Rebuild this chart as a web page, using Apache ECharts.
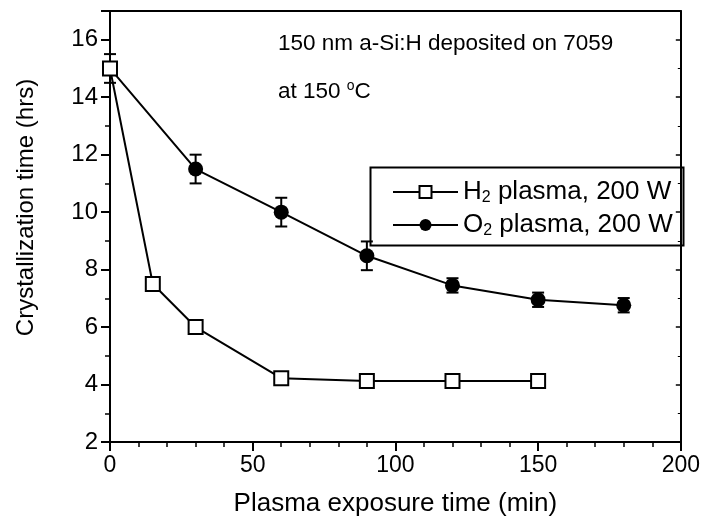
<!DOCTYPE html>
<html><head><meta charset="utf-8">
<script src="https://cdn.jsdelivr.net/npm/echarts@6/dist/echarts.min.js"></script>
<style>html,body{margin:0;padding:0;background:#fff}#c{width:703px;height:523px}</style>
</head><body><div id="c"></div>
<script>
// Data
const h2Time = [0, 15, 30, 60, 90, 120, 150];
const h2Hours = [15, 7.5, 6.0, 4.22, 4.12, 4.12, 4.12];
const h2Err = [0.5, 0.2, 0.2, 0.2, 0.15, 0.15, 0.15];
const o2Time = [0, 30, 60, 90, 120, 150, 180];
const o2Hours = [15, 11.5, 10.0, 8.48, 7.45, 6.95, 6.76];
const o2Err = [0, 0.5, 0.5, 0.5, 0.25, 0.25, 0.25];
const xTicks = [0, 50, 100, 150, 200];
const yTicks = [2, 4, 6, 8, 10, 12, 14, 16];

const FONT = '"Liberation Sans", Arial, Helvetica, sans-serif';
const chart = echarts.init(document.getElementById('c'), null, {renderer: 'canvas'});

function errData(xs, ys, es) {
  return xs.map((x, i) => [x, ys[i] - es[i], ys[i] + es[i]]).filter(d => d[2] > d[1]);
}
function errSeries(xs, ys, es) {
  return {
    type: 'custom', silent: true, z: 2, clip: false,
    data: errData(xs, ys, es),
    renderItem: function (params, api) {
      const x = api.value(0);
      const lo = api.coord([x, api.value(1)]);
      const hi = api.coord([x, api.value(2)]);
      const cw = 6;
      const st = {stroke: '#000', lineWidth: 2};
      return {type: 'group', children: [
        {type: 'line', shape: {x1: lo[0], y1: lo[1], x2: hi[0], y2: hi[1]}, style: st},
        {type: 'line', shape: {x1: lo[0] - cw, y1: lo[1], x2: lo[0] + cw, y2: lo[1]}, style: st},
        {type: 'line', shape: {x1: hi[0] - cw, y1: hi[1], x2: hi[0] + cw, y2: hi[1]}, style: st}
      ]};
    }
  };
}

const h2Name = 'H2 plasma, 200 W';
const o2Name = 'O2 plasma, 200 W';

const option = {
  backgroundColor: '#fff',
  animation: false,
  textStyle: {fontFamily: FONT, color: '#000'},
  grid: {left: 110, right: 20, top: 11, bottom: 81},
  xAxis: [{
    type: 'value', min: 0, max: 200, interval: 50,
    name: 'Plasma exposure time (min)', nameLocation: 'middle', nameGap: 49,
    nameTextStyle: {fontSize: 26, color: '#000', fontFamily: FONT},
    axisLine: {show: true, onZero: false, lineStyle: {color: '#000', width: 2}},
    axisTick: {show: true, inside: false, length: 9, lineStyle: {color: '#000', width: 2}},
    minorTick: {show: true, splitNumber: 5, length: 5, lineStyle: {color: '#000', width: 1.5}},
    axisLabel: {fontSize: 23, color: '#000', margin: 12, fontFamily: FONT},
    splitLine: {show: false}
  }, {
    type: 'value', min: 0, max: 200, interval: 50, position: 'top',
    axisLine: {show: true, onZero: false, lineStyle: {color: '#000', width: 2}},
    axisTick: {show: false}, axisLabel: {show: false}, splitLine: {show: false}
  }],
  yAxis: [{
    type: 'value', min: 2, max: 17, interval: 2,
    name: 'Crystallization time (hrs)', nameLocation: 'middle', nameGap: 72,
    nameTextStyle: {fontSize: 24, color: '#000', fontFamily: FONT, padding: [0, 0, 0, 38]},
    axisLine: {show: true, onZero: false, lineStyle: {color: '#000', width: 2}},
    axisTick: {show: true, inside: false, length: 9, lineStyle: {color: '#000', width: 2}},
    minorTick: {show: true, splitNumber: 2, length: 5, lineStyle: {color: '#000', width: 1.5}},
    axisLabel: {fontSize: 24, color: '#000', margin: 12, fontFamily: FONT,
      formatter: v => (yTicks.indexOf(v) >= 0 ? String(v) : '')},
    splitLine: {show: false}
  }, {
    type: 'value', min: 2, max: 17, interval: 2, position: 'right',
    axisLine: {show: true, onZero: false, lineStyle: {color: '#000', width: 2}},
    axisTick: {show: true, inside: true, length: 5, lineStyle: {color: '#000', width: 1.5}},
    minorTick: {show: true, splitNumber: 2, length: 3, lineStyle: {color: '#000', width: 1}},
    axisLabel: {show: false}, splitLine: {show: false}
  }],
  legend: {
    orient: 'vertical', left: 392, top: 178, padding: 0, itemGap: 5,
    itemWidth: 65, itemHeight: 15,
    data: [h2Name, o2Name],
    formatter: function (name) {
      return name === h2Name ? 'H{sub|2} plasma, 200 W' : 'O{sub|2} plasma, 200 W';
    },
    textStyle: {fontSize: 26, color: '#000', fontFamily: FONT, lineHeight: 28, padding: [0, 0, 0, 0],
      rich: {sub: {fontSize: 16, verticalAlign: 'bottom', lineHeight: 28, padding: [12, 0, 0, 0], fontFamily: FONT}}}
  },
  graphic: [
    {type: 'rect', left: 368, top: 165, shape: {width: 313, height: 78},
      style: {fill: 'none', stroke: '#000', lineWidth: 2}, z: 1},
    {type: 'text', left: 278, top: 32,
      style: {text: '150 nm a-Si:H deposited on 7059', fontSize: 22.5, fontFamily: FONT, fill: '#000'}},
    {type: 'text', left: 278, top: 79,
      style: {text: 'at 150 {sup|o}C', fontSize: 22.5, fontFamily: FONT, fill: '#000',
        rich: {sup: {fontSize: 14, fontFamily: FONT, verticalAlign: 'top', padding: [0, 0, 12, 0]}}}}
  ],
  series: [
    errSeries(o2Time, o2Hours, o2Err),
    errSeries(h2Time, h2Hours, h2Err),
    {
      name: o2Name, type: 'line', z: 3, clip: false,
      data: o2Time.map((x, i) => i === 0 ? {value: [x, o2Hours[i]], symbol: 'none'} : [x, o2Hours[i]]),
      symbol: 'circle', symbolSize: 15,
      lineStyle: {color: '#000', width: 2},
      itemStyle: {color: '#000', borderColor: '#000', borderWidth: 0}
    },
    {
      name: h2Name, type: 'line', z: 4, clip: false,
      data: h2Time.map((x, i) => [x, h2Hours[i]]),
      symbol: 'rect', symbolSize: 14,
      lineStyle: {color: '#000', width: 2},
      itemStyle: {color: '#fff', borderColor: '#000', borderWidth: 2}
    }
  ]
};
chart.setOption(option);
</script></body></html>
